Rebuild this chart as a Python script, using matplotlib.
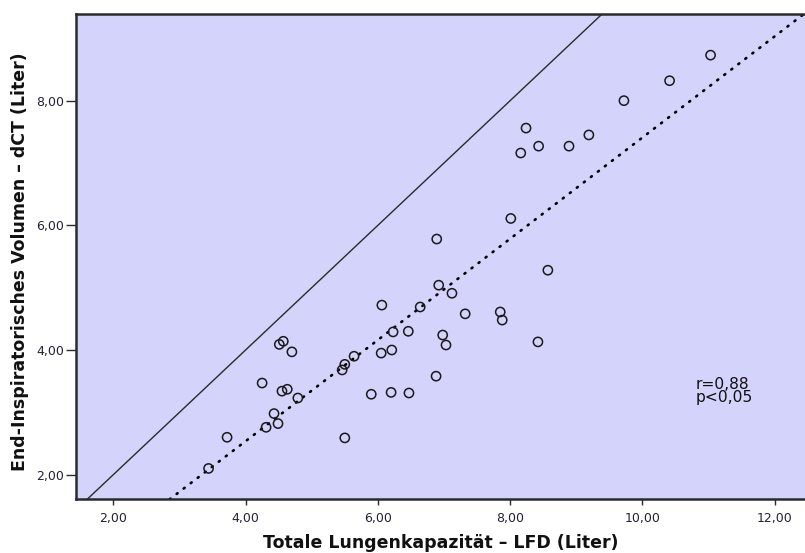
import numpy as np
import matplotlib
matplotlib.use("Agg")
import matplotlib.pyplot as plt
from matplotlib.ticker import FixedLocator, FuncFormatter

# Total lung capacity (LFD) vs. end-inspiratory volume (dCT), litres
tlc_lfd = [3.44, 3.72, 4.25, 4.31, 4.43, 4.49, 4.51, 4.57, 4.55, 4.63,
           4.70, 4.79, 5.46, 5.50, 5.64, 5.50, 5.90, 6.06, 6.05, 6.23,
           6.21, 6.20, 6.46, 6.47, 6.64, 6.89, 6.92, 6.88, 6.98, 7.03,
           7.12, 7.32, 7.85, 7.88, 8.42, 8.57, 8.01, 8.24, 8.16, 8.43,
           8.89, 9.19, 9.72, 10.41, 11.03]
eiv_dct = [2.10, 2.60, 3.47, 2.76, 2.98, 2.82, 4.09, 4.14, 3.34, 3.37,
           3.97, 3.23, 3.68, 3.77, 3.90, 2.59, 3.29, 4.72, 3.95, 4.29,
           4.00, 3.32, 4.30, 3.31, 4.69, 5.78, 5.04, 3.58, 4.24, 4.08,
           4.91, 4.58, 4.61, 4.48, 4.13, 5.28, 6.11, 7.56, 7.16, 7.27,
           7.27, 7.45, 8.00, 8.32, 8.73]

x_ticks = [2, 4, 6, 8, 10, 12]
y_ticks = [2, 4, 6, 8]
x_label = "Totale Lungenkapazität – LFD (Liter)"
y_label = "End-Inspiratorisches Volumen – dCT (Liter)"
stats_text = "r=0,88\np<0,05"

x = np.asarray(tlc_lfd)
y = np.asarray(eiv_dct)

fig = plt.figure(figsize=(8.05, 5.53), dpi=100)
fig.patch.set_facecolor("white")
ax = fig.add_axes([76 / 805, 1 - 499.3 / 553, 732 / 805, (499.3 - 14) / 553])
ax.set_facecolor("#d3d3fb")

ax.set_xlim(1.436, 12.503)
ax.set_ylim(1.605, 9.39)

# line of identity
ax.axline((0, 0), slope=1, color="#2a2a2a", lw=1.0, zorder=2)

# least-squares fit
slope, intercept = np.polyfit(x, y, 1)
ax.axline((0, intercept), slope=slope, color="black", lw=1.9,
          linestyle=(0, (0.45, 2.9)), dash_capstyle="round", zorder=2)

ax.scatter(x, y, s=44, facecolors="none", edgecolors="#1a1a1a",
           linewidths=1.1, zorder=3)

ax.text(10.81, 3.34, stats_text, fontsize=11.2, va="center", ha="left",
        linespacing=0.88, color="#111111")

# frame and ticks
for side in ("left", "bottom", "top"):
    ax.spines[side].set_linewidth(1.8)
    ax.spines[side].set_color("#2a2a2a")
ax.spines["right"].set_visible(False)

comma = FuncFormatter(lambda v, p: f"{v:.2f}".replace(".", ","))
ax.xaxis.set_major_locator(FixedLocator(x_ticks))
ax.yaxis.set_major_locator(FixedLocator(y_ticks))
ax.xaxis.set_major_formatter(comma)
ax.yaxis.set_major_formatter(comma)
ax.tick_params(axis="x", direction="out", length=4.5, width=1.0,
               pad=5, labelsize=9, colors="#2a2a2a", labelcolor="#222233")
ax.tick_params(axis="y", direction="out", length=7, width=1.0,
               pad=1.5, labelsize=9, colors="#2a2a2a", labelcolor="#222233")

fig.text(441 / 805, 1 - 543 / 553, x_label, fontsize=12.5, fontweight="bold",
         ha="center", va="center", color="#111111")
fig.text(20 / 805, 1 - 262 / 553, y_label, fontsize=12.5, fontweight="bold",
         ha="center", va="center", rotation=90, color="#111111")

fig.savefig("out.png", dpi=100)
